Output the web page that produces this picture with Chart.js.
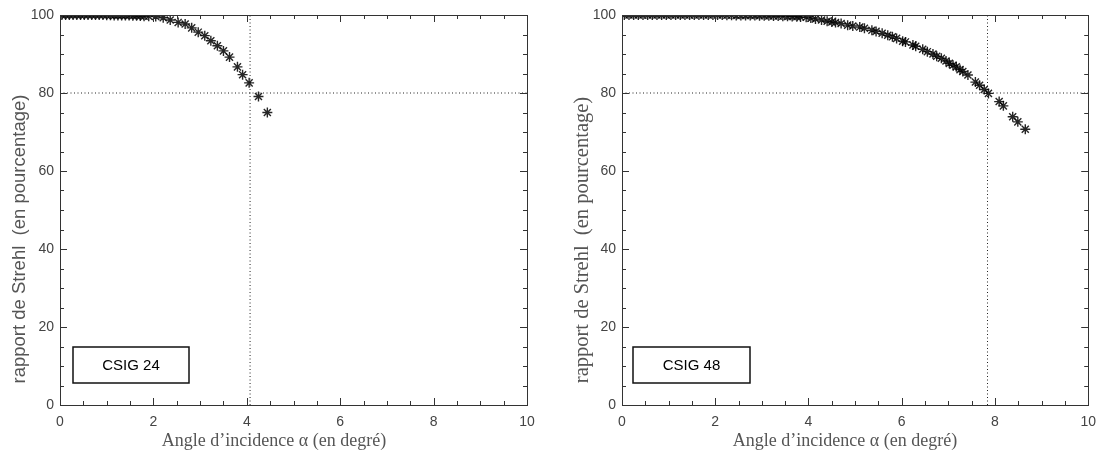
<!DOCTYPE html>
<html>
<head>
<meta charset="utf-8">
<script src="https://cdn.jsdelivr.net/npm/chart.js"></script>
<style>
  body { margin: 0; background: #fff; }
  #wrap { position: relative; width: 1105px; height: 457px; }
  canvas { position: absolute; top: 0; }
</style>
</head>
<body>
<div id="wrap">
  <canvas id="left" width="552" height="457" style="left:0"></canvas>
  <canvas id="right" width="553" height="457" style="left:552px"></canvas>
</div>
<script>
// CSIG 24
var angles24 = [0.04,0.12,0.2,0.28,0.36,0.44,0.52,0.6,0.68,0.76,
  0.84,0.92,1.0,1.08,1.16,1.24,1.32,1.4,1.48,1.56,
  1.64,1.72,1.8,1.9,2.05,2.21,2.36,2.53,2.68,2.82,
  2.96,3.10,3.23,3.37,3.50,3.63,3.80,3.91,4.05,4.25,4.44];
var strehl24 = [100,100,100,100,100,100,100,100,100,100,
  100,100,99.95,99.95,99.9,99.9,99.9,99.85,99.85,99.8,
  99.8,99.75,99.7,99.7,99.6,99.3,98.7,98.1,97.7,96.7,
  95.6,94.7,93.4,92.1,90.8,89.2,86.7,84.7,82.6,79.1,75.0];

// CSIG 48
var angles48 = [0.05,0.15,0.25,0.35,0.45,0.55,0.65,0.75,0.85,0.95,
  1.05,1.15,1.25,1.35,1.45,1.55,1.65,1.75,1.85,1.95,
  2.05,2.15,2.25,2.35,2.45,2.55,2.65,2.75,2.85,2.95,
  3.05,3.15,3.25,3.35,3.45,3.55,3.65,3.75,3.83,3.95,
  4.05,4.15,4.28,4.40,4.50,4.58,4.70,4.84,4.95,5.10,
  5.20,5.36,5.45,5.58,5.70,5.80,5.89,6.02,6.08,6.24,
  6.30,6.45,6.55,6.67,6.75,6.85,6.95,7.02,7.10,7.17,
  7.25,7.31,7.42,7.58,7.67,7.77,7.86,8.09,8.18,8.38,
  8.49,8.65];
var strehl48 = [100,100,100,100,100,100,100,100,100,100,
  100,100,100,100,100,100,100,100,100,100,
  100,100,99.95,99.95,99.9,99.9,99.9,99.85,99.85,99.82,
  99.8,99.78,99.75,99.72,99.7,99.65,99.6,99.55,99.5,99.4,
  99.2,99.0,98.7,98.4,98.2,98.1,97.8,97.4,97.2,96.9,
  96.6,96.1,95.8,95.3,94.8,94.4,94.0,93.3,93.1,92.3,
  92.0,91.2,90.6,90.0,89.4,88.9,88.2,87.6,87.1,86.7,
  86.0,85.5,84.6,82.8,82.0,80.9,79.9,77.8,76.7,73.9,
  72.6,70.7];

var xTickValues = [0,2,4,6,8,10];
var yTickValues = [0,20,40,60,80,100];
var threshold = 80;
var crossing24 = 4.07;
var crossing48 = 7.84;

var xTitle = 'Angle d\u2019incidence \u03b1 (en degr\u00e9)';
var yTitle = 'rapport de Strehl  (en pourcentage)';

function toPoints(xs, ys) {
  var pts = [];
  for (var i = 0; i < xs.length; i++) pts.push({x: xs[i], y: ys[i]});
  return pts;
}

// frame with inward ticks on all four sides
var frameTicks = {
  id: 'frameTicks',
  afterDatasetsDraw: function(chart) {
    var ctx = chart.ctx, a = chart.chartArea;
    var xs = chart.scales.x, ys = chart.scales.y;
    ctx.save();
    ctx.strokeStyle = '#333';
    ctx.lineWidth = 1;
    ctx.strokeRect(Math.round(a.left) + 0.5, Math.round(a.top) + 0.5,
      Math.round(a.right - a.left), Math.round(a.bottom - a.top));
    ctx.beginPath();
    for (var i = 0; i <= 20; i++) {
      var px = Math.round(xs.getPixelForValue(i / 2)) + 0.5;
      var len = i % 4 == 0 ? 7 : 4;
      ctx.moveTo(px, a.bottom); ctx.lineTo(px, a.bottom - len);
      ctx.moveTo(px, a.top); ctx.lineTo(px, a.top + len);
      var py = Math.round(ys.getPixelForValue(i * 5)) + 0.5;
      ctx.moveTo(a.left, py); ctx.lineTo(a.left + len, py);
      ctx.moveTo(a.right, py); ctx.lineTo(a.right - len, py);
    }
    ctx.stroke();
    ctx.restore();
  }
};

// label box and axis titles
var annotations = {
  id: 'annotations',
  afterDraw: function(chart, args, opts) {
    var ctx = chart.ctx;
    var xs = chart.scales.x, ys = chart.scales.y;
    ctx.save();
    var x1 = xs.getPixelForValue(opts.box[0]), x2 = xs.getPixelForValue(opts.box[1]);
    var y1 = ys.getPixelForValue(opts.box[3]), y2 = ys.getPixelForValue(opts.box[2]);
    ctx.strokeStyle = '#111';
    ctx.lineWidth = 1.5;
    ctx.strokeRect(Math.round(x1), Math.round(y1), Math.round(x2 - x1), Math.round(y2 - y1));
    ctx.fillStyle = '#000';
    ctx.font = '15px "Liberation Sans", Arial, sans-serif';
    ctx.textAlign = 'center';
    ctx.textBaseline = 'middle';
    ctx.fillText(opts.label, (x1 + x2) / 2, (y1 + y2) / 2 + 1);

    ctx.fillStyle = '#555';
    ctx.font = '18px "Liberation Serif", "Times New Roman", serif';
    ctx.fillText(xTitle, opts.xTitlePos[0], opts.xTitlePos[1]);

    ctx.translate(opts.yTitlePos[0], opts.yTitlePos[1]);
    ctx.rotate(-Math.PI / 2);
    ctx.font = opts.yTitleFont;
    ctx.fillText(yTitle, 0, 0);
    ctx.restore();
  }
};

function makeChart(id, xs, ys, crossing, opts) {
  var ctx = document.getElementById(id);
  var tickFont = {family: '"Liberation Sans", Arial, sans-serif', size: 14};
  return new Chart(ctx, {
    type: 'scatter',
    data: {
      datasets: [{
        data: toPoints(xs, ys),
        pointStyle: 'star',
        pointRadius: 5,
        borderColor: 'rgba(0,0,0,0.85)',
        backgroundColor: 'rgba(0,0,0,0.85)',
        borderWidth: 1.4,
        showLine: false
      }, {
        data: [{x: 0, y: threshold}, {x: 10, y: threshold}],
        showLine: true,
        borderColor: '#222',
        borderWidth: 1,
        borderDash: [1, 2.5],
        pointRadius: 0
      }, {
        data: [{x: crossing, y: 0}, {x: crossing, y: 100}],
        showLine: true,
        borderColor: '#222',
        borderWidth: 1,
        borderDash: [1, 2.5],
        pointRadius: 0
      }]
    },
    options: {
      responsive: false,
      animation: false,
      events: [],
      layout: {padding: {top: 15, right: opts.padRight, bottom: 0, left: 0}},
      plugins: {
        legend: {display: false},
        tooltip: {enabled: false},
        annotations: opts
      },
      scales: {
        x: {
          type: 'linear', min: 0, max: 10,
          grid: {display: false, drawTicks: false},
          border: {display: false},
          afterBuildTicks: function(s) { s.ticks = xTickValues.map(function(v) { return {value: v}; }); },
          afterFit: function(s) { s.height = 52; },
          ticks: {font: tickFont, color: '#444', padding: 9, maxRotation: 0}
        },
        y: {
          type: 'linear', min: 0, max: 100,
          grid: {display: false, drawTicks: false},
          border: {display: false},
          afterBuildTicks: function(s) { s.ticks = yTickValues.map(function(v) { return {value: v}; }); },
          afterFit: function(s) { s.width = opts.yWidth; },
          ticks: {font: tickFont, color: '#444', padding: 6}
        }
      }
    },
    plugins: [frameTicks, annotations]
  });
}

function init() {
  makeChart('left', angles24, strehl24, crossing24, {
    padRight: 25, yWidth: 60,
    box: [0.28, 2.76, 5.6, 14.9], label: 'CSIG 24',
    xTitlePos: [274, 441], yTitlePos: [20, 239],
    yTitleFont: '18.5px "Liberation Sans", Arial, sans-serif'
  });
  makeChart('right', angles48, strehl48, crossing48, {
    padRight: 16, yWidth: 70,
    box: [0.24, 2.74, 5.6, 14.9], label: 'CSIG 48',
    xTitlePos: [293, 441], yTitlePos: [31, 240],
    yTitleFont: '20.5px "Liberation Serif", "Times New Roman", serif'
  });
}

init();
</script>
</body>
</html>
